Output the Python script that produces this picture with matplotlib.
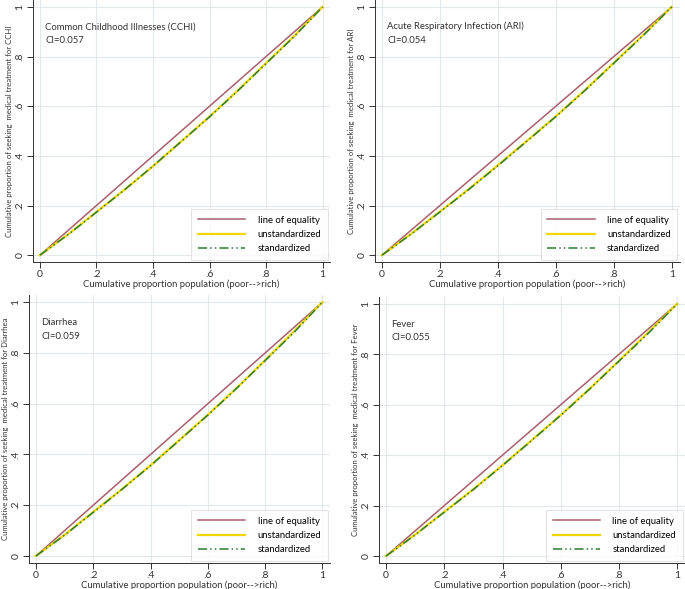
import matplotlib.pyplot as plt

plt.rcParams["font.family"] = ["Lato", "DejaVu Sans"]

# cumulative population share (poor --> rich)
pop_share = [0, 0.1, 0.2, 0.3, 0.4, 0.5, 0.6, 0.7, 0.8, 0.9, 1.0]

titles = ["Common Childhood Illnesses (CCHI)", "Acute Respiratory Infection (ARI)", "Diarrhea", "Fever"]
ci_labels = ["CI=0.057", "CI=0.054", "CI=0.059", "CI=0.055"]
ylabels = ["CCHI", "ARI", "Diarrhea", "Fever"]

cchi_unstd = [0, 0.084, 0.174, 0.264, 0.358, 0.458, 0.558, 0.663, 0.773, 0.883, 1.0]
cchi_std = [0, 0.083, 0.173, 0.264, 0.359, 0.458, 0.557, 0.662, 0.772, 0.881, 1.0]
ari_unstd = [0, 0.085, 0.175, 0.266, 0.362, 0.46, 0.559, 0.664, 0.774, 0.885, 1.0]
ari_std = [0, 0.084, 0.174, 0.265, 0.36, 0.459, 0.558, 0.663, 0.773, 0.883, 1.0]
diarrhea_unstd = [0, 0.083, 0.173, 0.263, 0.357, 0.456, 0.556, 0.661, 0.771, 0.884, 1.0]
diarrhea_std = [0, 0.082, 0.172, 0.262, 0.356, 0.455, 0.555, 0.66, 0.77, 0.88, 1.0]
fever_unstd = [0, 0.085, 0.175, 0.265, 0.36, 0.459, 0.559, 0.664, 0.774, 0.886, 1.0]
fever_std = [0, 0.084, 0.174, 0.264, 0.359, 0.458, 0.558, 0.663, 0.773, 0.882, 1.0]

unstd_list = [cchi_unstd, ari_unstd, diarrhea_unstd, fever_unstd]
std_list = [cchi_std, ari_std, diarrhea_std, fever_std]

ticks = [0, 0.2, 0.4, 0.6, 0.8, 1.0]
tick_labels = ["0", ".2", ".4", ".6", ".8", "1"]

# panel positions [left, bottom, width, height] in figure fractions
positions = [
    [0.048, 0.555, 0.434, 0.445],
    [0.547, 0.555, 0.445, 0.445],
    [0.042, 0.044, 0.440, 0.455],
    [0.553, 0.044, 0.447, 0.452],
]

fig = plt.figure(figsize=(6.85, 5.89), dpi=100)

for i in range(4):
    ax = fig.add_axes(positions[i])
    ax.plot([0, 1], [0, 1], color="#a85e6c", lw=1.1, label="line of equality")
    ax.plot(pop_share, unstd_list[i], color="#f2d600", lw=1.6, label="unstandardized")
    ax.plot(pop_share, std_list[i], color="#2e7d32", lw=1.1,
            dashes=(6, 2, 1, 2, 1, 2), label="standardized")

    ax.set_xlim(-0.025, 1.027)
    ax.set_ylim(-0.028, 1.028)
    ax.set_xticks(ticks)
    ax.set_xticklabels(tick_labels, fontsize=7.5)
    ax.set_yticks(ticks)
    ax.set_yticklabels(tick_labels, fontsize=7.5, rotation=90, va="center")
    ax.tick_params(direction="out", length=4, width=0.7, colors="#333333", pad=2)
    ax.grid(True, color="#e3e8ec", lw=0.8)
    ax.set_axisbelow(True)
    for side in ["top", "right"]:
        ax.spines[side].set_visible(False)
    for side in ["left", "bottom"]:
        ax.spines[side].set_color("#333333")
        ax.spines[side].set_linewidth(0.7)

    ax.set_xlabel("Cumulative proportion population (poor-->rich)", fontsize=6.8,
                  color="#333333", labelpad=0)
    ax.set_ylabel("Cumulative proportion of seeking  medical treatment for " + ylabels[i],
                  fontsize=5.6, color="#333333", labelpad=2)

    ax.text(0.018, 0.91, titles[i], fontsize=6.8, color="#333333")
    ax.text(0.018, 0.855, ci_labels[i], fontsize=6.8, color="#333333")

    leg = ax.legend(loc="lower right", fontsize=6.8, frameon=True, fancybox=False,
                    handlelength=5.0, handletextpad=1.3, borderpad=0.7, labelspacing=0.55,
                    borderaxespad=0.25)
    leg.get_frame().set_edgecolor("#dddddd")
    leg.get_frame().set_linewidth(0.8)

plt.savefig("out.png", dpi=100)
